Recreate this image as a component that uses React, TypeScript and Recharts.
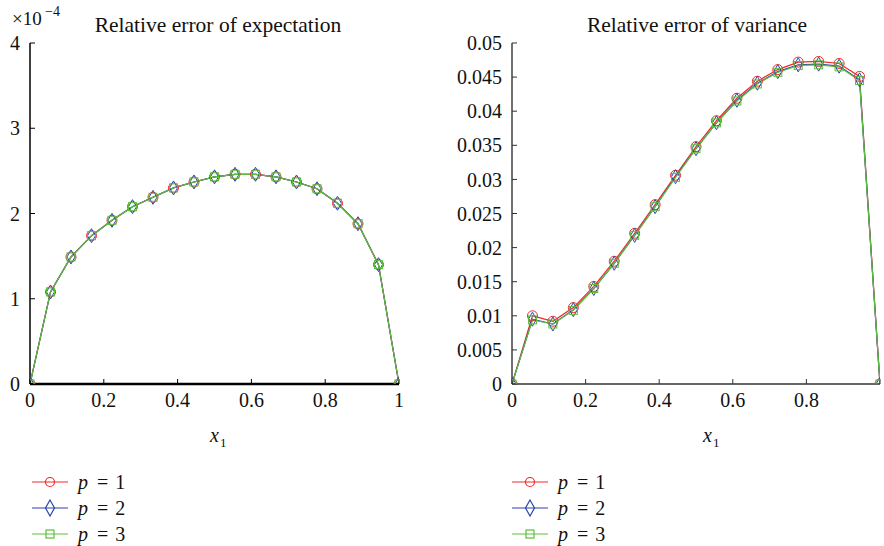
import React from 'react';
import { LineChart, Line, XAxis, YAxis, Legend } from 'recharts';

// x1 sample positions (19 nodes on [0, 1])
const xValues = [0, 0.0556, 0.1111, 0.1667, 0.2222, 0.2778, 0.3333, 0.3889, 0.4444, 0.5, 0.5556, 0.6111, 0.6667, 0.7222, 0.7778, 0.8333, 0.8889, 0.9444, 1];

// Relative error of expectation, in units of 1e-4
const expP1 = [0, 1.08, 1.49, 1.74, 1.92, 2.08, 2.19, 2.3, 2.37, 2.43, 2.46, 2.46, 2.43, 2.37, 2.29, 2.12, 1.88, 1.4, 0];
const expP2 = [0, 1.08, 1.49, 1.74, 1.92, 2.08, 2.19, 2.3, 2.37, 2.43, 2.46, 2.46, 2.43, 2.37, 2.29, 2.12, 1.88, 1.4, 0];
const expP3 = [0, 1.08, 1.49, 1.74, 1.92, 2.08, 2.19, 2.3, 2.37, 2.43, 2.46, 2.46, 2.43, 2.37, 2.29, 2.12, 1.88, 1.4, 0];

// Relative error of variance
const varP1 = [0, 0.01, 0.0092, 0.0112, 0.0143, 0.018, 0.0221, 0.0263, 0.0306, 0.0348, 0.0386, 0.0419, 0.0444, 0.0461, 0.0472, 0.0473, 0.047, 0.0451, 0];
const varP2 = [0, 0.0095, 0.0088, 0.0109, 0.014, 0.0177, 0.0218, 0.026, 0.0304, 0.0345, 0.0383, 0.0416, 0.0441, 0.0458, 0.0468, 0.0469, 0.0466, 0.0446, 0];
const varP3 = [0, 0.0094, 0.0088, 0.0108, 0.014, 0.0177, 0.0218, 0.026, 0.0303, 0.0345, 0.0383, 0.0415, 0.044, 0.0457, 0.0467, 0.0468, 0.0465, 0.0445, 0];

const xTicks = [0, 0.2, 0.4, 0.6, 0.8, 1];
const expTicks = [0, 1, 2, 3, 4];
const varTicks = [0, 0.005, 0.01, 0.015, 0.02, 0.025, 0.03, 0.035, 0.04, 0.045, 0.05];
const seriesNames = ['1', '2', '3'];

const RED = '#f02a2a';
const BLUE = '#2a46a8';
const GREEN = '#5cbf3c';
const FONT = '"Liberation Serif", "Times New Roman", serif';

const expData = xValues.map((x, i) => ({ x, p1: expP1[i], p2: expP2[i], p3: expP3[i] }));
const varData = xValues.map((x, i) => ({ x, p1: varP1[i], p2: varP2[i], p3: varP3[i] }));

const circleDot = (props: any) => {
  const { cx, cy, index } = props;
  if (cx == null || cy == null) return <g key={`c${index}`} />;
  return <circle key={`c${index}`} cx={cx} cy={cy} r={5} fill="none" stroke={RED} strokeWidth={1} />;
};
const diamondDot = (props: any) => {
  const { cx, cy, index } = props;
  if (cx == null || cy == null) return <g key={`d${index}`} />;
  return (
    <polygon
      key={`d${index}`}
      points={`${cx},${cy - 7} ${cx + 4},${cy} ${cx},${cy + 7} ${cx - 4},${cy}`}
      fill="none"
      stroke={BLUE}
      strokeWidth={1}
    />
  );
};
const squareDot = (props: any) => {
  const { cx, cy, index } = props;
  if (cx == null || cy == null) return <g key={`s${index}`} />;
  return <rect key={`s${index}`} x={cx - 4} y={cy - 4} width={8} height={8} fill="none" stroke={GREEN} strokeWidth={1} />;
};

const LegendIcon = ({ kind }: { kind: number }) => {
  const color = [RED, BLUE, GREEN][kind];
  return (
    <svg width={36} height={20} style={{ display: 'block' }}>
      <line x1={0} y1={10} x2={36} y2={10} stroke={color} strokeWidth={1.2} />
      {kind === 0 && <circle cx={18} cy={10} r={4.5} fill="none" stroke={color} strokeWidth={1.2} />}
      {kind === 1 && <polygon points="18,2 22.5,10 18,18 13.5,10" fill="none" stroke={color} strokeWidth={1.2} />}
      {kind === 2 && <rect x={14} y={6} width={8} height={8} fill="none" stroke={color} strokeWidth={1.2} />}
    </svg>
  );
};

const LegendContent = () => (
  <div style={{ fontFamily: FONT, fontSize: 20, color: '#111' }}>
    {seriesNames.map((n, k) => (
      <div key={n} style={{ display: 'flex', alignItems: 'center', height: 26 }}>
        <LegendIcon kind={k} />
        <span style={{ marginLeft: 10, whiteSpace: 'nowrap' }}>
          <i>p</i>
          <span style={{ marginLeft: 9 }}>=</span>
          <span style={{ marginLeft: 7 }}>{n}</span>
        </span>
      </div>
    ))}
  </div>
);

const tickStyle = { fill: '#111', fontFamily: FONT, fontSize: 20 };

const fmtVar = (v: number) => (v === 0 ? '0' : String(v));
const fmtX = (v: number) => String(v);
const fmtXRight = (v: number) => (v === 1 ? '' : String(v));

export default function App() {
  return (
    <div style={{ position: 'absolute', left: 0, top: 0, width: 884, height: 546, background: '#fff', overflow: 'hidden' }}>
      {/* Left chart */}
      <div style={{ position: 'absolute', left: 0, top: 0 }}>
        <LineChart width={440} height={546} data={expData} margin={{ top: 43, right: 41, left: 0, bottom: 132 }}>
          <XAxis
            xAxisId="b"
            type="number"
            dataKey="x"
            domain={[0, 1]}
            allowDataOverflow
            ticks={xTicks}
            interval={0}
            tickFormatter={fmtX}
            tick={tickStyle}
            tickSize={-5}
            tickMargin={14}
            height={30}
            axisLine={{ stroke: '#000', strokeWidth: 2.5 }}
            tickLine={{ stroke: '#000' }}
          />
          <XAxis
            xAxisId="t"
            orientation="top"
            type="number"
            dataKey="x"
            domain={[0, 1]}
            allowDataOverflow
            ticks={xTicks}
            interval={0}
            tick={false}
            tickSize={-5}
            height={0}
            axisLine={{ stroke: '#000', strokeWidth: 1.2 }}
            tickLine={{ stroke: '#000' }}
          />
          <YAxis
            yAxisId="l"
            type="number"
            domain={[0, 4]}
            allowDataOverflow
            ticks={expTicks}
            interval={0}
            tick={tickStyle}
            tickSize={-5}
            tickMargin={15}
            width={30}
            axisLine={{ stroke: '#000', strokeWidth: 1.5 }}
            tickLine={{ stroke: '#000' }}
          />
          <YAxis
            yAxisId="r"
            orientation="right"
            type="number"
            domain={[0, 4]}
            allowDataOverflow
            ticks={expTicks}
            interval={0}
            tick={false}
            tickSize={-5}
            width={0}
            axisLine={{ stroke: '#000', strokeWidth: 1.2 }}
            tickLine={{ stroke: '#000' }}
          />
          <Line xAxisId="b" yAxisId="l" type="linear" dataKey="p1" stroke={RED} strokeWidth={1.2} dot={circleDot} isAnimationActive={false} />
          <Line xAxisId="t" yAxisId="r" type="linear" dataKey="p2" stroke={BLUE} strokeWidth={1.2} dot={diamondDot} isAnimationActive={false} />
          <Line xAxisId="b" yAxisId="l" type="linear" dataKey="p3" stroke={GREEN} strokeWidth={1.2} dot={squareDot} isAnimationActive={false} />
          <Legend
            layout="vertical"
            align="center"
            verticalAlign="middle"
            wrapperStyle={{ left: 32, top: 469, width: 200, height: 80 }}
            content={() => <LegendContent />}
          />
        </LineChart>
      </div>

      {/* Right chart */}
      <div style={{ position: 'absolute', left: 440, top: 0 }}>
        <LineChart width={444} height={546} data={varData} margin={{ top: 43, right: 4, left: 0, bottom: 132 }}>
          <XAxis
            xAxisId="b"
            type="number"
            dataKey="x"
            domain={[0, 1]}
            allowDataOverflow
            ticks={xTicks}
            interval={0}
            tickFormatter={fmtXRight}
            tick={tickStyle}
            tickSize={-5}
            tickMargin={14}
            height={30}
            axisLine={{ stroke: '#333', strokeWidth: 1.4 }}
            tickLine={{ stroke: '#333' }}
          />
          <XAxis
            xAxisId="t"
            orientation="top"
            type="number"
            dataKey="x"
            domain={[0, 1]}
            allowDataOverflow
            ticks={xTicks}
            interval={0}
            tick={false}
            tickSize={-5}
            height={0}
            axisLine={{ stroke: '#333', strokeWidth: 1.2 }}
            tickLine={{ stroke: '#333' }}
          />
          <YAxis
            yAxisId="l"
            type="number"
            domain={[0, 0.05]}
            allowDataOverflow
            ticks={varTicks}
            interval={0}
            tickFormatter={fmtVar}
            tick={tickStyle}
            tickSize={-5}
            tickMargin={15}
            width={72}
            axisLine={{ stroke: '#333', strokeWidth: 1.4 }}
            tickLine={{ stroke: '#333' }}
          />
          <YAxis
            yAxisId="r"
            orientation="right"
            type="number"
            domain={[0, 0.05]}
            allowDataOverflow
            ticks={varTicks}
            interval={0}
            tick={false}
            tickSize={-5}
            width={0}
            axisLine={{ stroke: '#333', strokeWidth: 1.2 }}
            tickLine={{ stroke: '#333' }}
          />
          <Line xAxisId="b" yAxisId="l" type="linear" dataKey="p1" stroke={RED} strokeWidth={1.2} dot={circleDot} isAnimationActive={false} />
          <Line xAxisId="t" yAxisId="r" type="linear" dataKey="p2" stroke={BLUE} strokeWidth={1.2} dot={diamondDot} isAnimationActive={false} />
          <Line xAxisId="b" yAxisId="l" type="linear" dataKey="p3" stroke={GREEN} strokeWidth={1.2} dot={squareDot} isAnimationActive={false} />
          <Legend
            layout="vertical"
            align="center"
            verticalAlign="middle"
            wrapperStyle={{ left: 72, top: 469, width: 200, height: 80 }}
            content={() => <LegendContent />}
          />
        </LineChart>
      </div>

      {/* Titles, exponent and axis labels */}
      <svg width={884} height={546} style={{ position: 'absolute', left: 0, top: 0, pointerEvents: 'none' }}>
        <g fontFamily={FONT} fill="#111">
          <text x={218} y={32} fontSize={21.5} textAnchor="middle">Relative error of expectation</text>
          <text x={697} y={32} fontSize={21.5} textAnchor="middle">Relative error of variance</text>
          <text x={12} y={25} fontSize={19}>×10</text>
          <text x={45} y={16} fontSize={14}>−4</text>
          <text x={210} y={442} fontSize={20} fontStyle="italic">x</text>
          <text x={220} y={447} fontSize={13}>1</text>
          <text x={703} y={442} fontSize={20} fontStyle="italic">x</text>
          <text x={713} y={447} fontSize={13}>1</text>
        </g>
      </svg>
    </div>
  );
}
